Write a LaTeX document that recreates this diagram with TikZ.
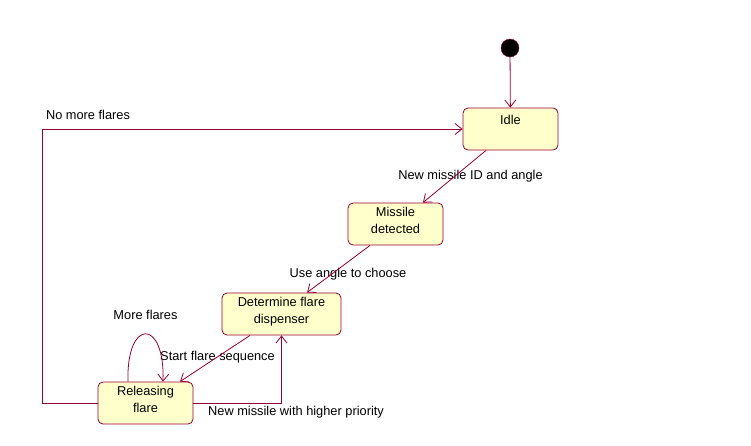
\documentclass[tikz,border=0pt]{standalone}
\usepackage{fontspec}
\setmainfont{Liberation Sans}
\usetikzlibrary{arrows.meta,calc}
\definecolor{edgered}{HTML}{990033}
\definecolor{statefill}{HTML}{FFFFCC}

\begin{document}
\begin{tikzpicture}[x=1pt, y=-1pt, font=\fontsize{12.8}{17}\selectfont,
  every node/.style={inner sep=0pt},
  state/.style={rectangle, rounded corners=5pt, draw=edgered, fill=statefill, line width=0.8pt,
    minimum width=95pt, minimum height=42pt, align=center},
  trans/.style={draw=edgered, line width=0.8pt, -{Straight Barb[length=7pt,width=11pt]}}]
  \useasboundingbox (0,0) rectangle (751,445);
  \node (start) at (510,48) [circle, draw=edgered, fill=black, minimum size=18pt] {};
  \node (idle) at (510.5,129) [state, text depth=18pt] {Idle};
  \node (detected) at (395.5,224) [state, text depth=7pt] {Missile\\detected};
  \node (determine) at (281.5,314) [state, minimum width=119pt, text depth=7pt] {Determine flare\\dispenser};
  \node (releasing) at (145.5,403) [state, text depth=7pt] {Releasing\\flare};
  \node (newmissile) at (470.5,176) {New missile ID and angle};
  \node (useangle) at (348,274) {Use angle to choose};
  \node (startseq) at (217.5,357) {Start flare sequence};
  \node (moreflares) at (145.5,315) {More flares};
  \node (higherprio) at (296,412) {New missile with higher priority};
  \node (nomore) at (88,115) {No more flares};
  \draw[trans] (start) -- (idle);
  \draw[trans] ($(idle.south)+(-24.5,0)$) -- ($(detected.north)+(27.5,0)$);
  \draw[trans] ($(detected.south)+(-25.5,0)$) -- ($(determine.north)+(25.5,0)$);
  \draw[trans] ($(determine.south)+(-31.5,0)$) -- ($(releasing.north)+(34.5,0)$);
  \draw[trans] ($(releasing.north)+(-17.5,0)$) .. controls (126,318) and (165,318) .. ($(releasing.north)+(17.5,0)$);
  \draw[trans] (releasing.east) -| (determine.south);
  \draw[trans] (releasing.west) -- ++(-55,0) |- (idle.west);
\end{tikzpicture}
\end{document}
